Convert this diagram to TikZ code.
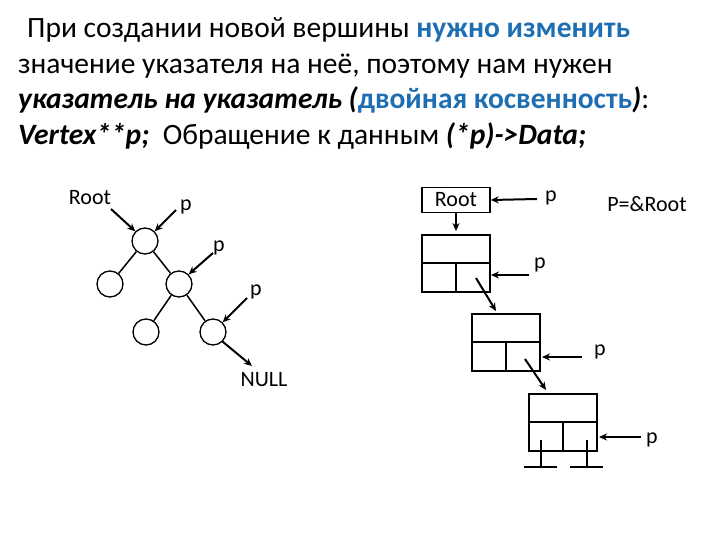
\documentclass[tikz,border=0pt]{standalone}
\usepackage{fontspec}
\usetikzlibrary{arrows.meta}
\setmainfont{Carlito}
\definecolor{hl}{RGB}{30,110,180}
\begin{document}
\begin{tikzpicture}[x=1pt,y=-1pt,
  every node/.style={inner sep=0pt},
  circ/.style={draw,circle,minimum size=26pt,line width=1.3pt},
  lab/.style={font=\fontsize{22}{22}\selectfont},
  ar/.style={-{Stealth[length=8pt,width=7pt]},line width=2pt},
  ln/.style={line width=1.5pt},
  box/.style={draw,line width=1.5pt}]
\useasboundingbox (0,0) rectangle (720,540);
\begin{scope}[every node/.style={anchor=base west,inner sep=0pt,font=\fontsize{29.5}{29.5}\selectfont}]
\node (l1) at (27,38) {При создании новой вершины \textcolor{hl}{\textbf{нужно изменить}}};
\node (l2) at (18,74) {значение указателя на неё, поэтому нам нужен};
\node (l3) at (18,109) {\textbf{\textit{указатель на указатель}} \textbf{\textit{(}}\textcolor{hl}{\textbf{двойная косвенность}}\textbf{\textit{)}}:};
\node (l4) at (18,145) {\textbf{\textit{Vertex**p;}}\ \ Обращение к данным \textbf{\textit{(*p)->Data;}}};
\end{scope}
% tree
\node[circ] (r) at (145,241) {};
\node[circ] (a) at (110,284) {};
\node[circ] (b) at (179,284) {};
\node[circ] (c) at (146,332) {};
\node[circ] (d) at (213,332) {};
\draw[ln] (r)--(a); \draw[ln] (r)--(b); \draw[ln] (b)--(c); \draw[ln] (b)--(d);
\node[lab] (troot) at (90,198) {Root};
\node[lab] (tp1) at (186,207) {p};
\node[lab] (tp2) at (219,248) {p};
\node[lab] (tp3) at (256,292) {p};
\node[lab] (tnull) at (264,380) {NULL};
\coordinate (s1) at (111,209); \draw[ar] (s1) -- (r.north west);
\coordinate (s2) at (176,210); \draw[ar] (s2) -- (r.north east);
\coordinate (s3) at (213,253); \draw[ar] (s3) -- (b.north east);
\coordinate (s4) at (247,298); \draw[ar] (s4) -- (d.north east);
\coordinate (s5) at (252,366); \draw[ar] (d.south east) -- (s5);
% right structure
\node[box,minimum width=68pt,minimum height=25pt,lab] (root) at (456,200) {Root};
\node[lab] (rp) at (551,198) {p};
\node[lab] (pr) at (647,204) {P=\&Root};
\coordinate (rps) at (537,199); \draw[ar] (rps) -- (root.east);
\coordinate (d0) at (456,231); \draw[ar] (root.south) -- (d0);
\foreach \n/\x/\y in {b1/422/235, b2/472/314, b3/529/394}{
  \draw[box] (\x,\y) rectangle ++(68,57);
  \draw[ln] (\x,\y+28) -- ++(68,0);
  \draw[ln] (\x+34,\y+28) -- ++(0,29);
  \coordinate (\n) at (\x,\y);
}
\node[lab] (p1) at (540,265) {p};
\node[lab] (p2) at (600,352) {p};
\node[lab] (p3) at (652,440) {p};
\coordinate (a1s) at (529,275); \coordinate (a1e) at (491,275); \draw[ar] (a1s) -- (a1e);
\coordinate (a2s) at (582,357); \coordinate (a2e) at (542,357); \draw[ar] (a2s) -- (a2e);
\coordinate (a3s) at (641,437); \coordinate (a3e) at (599,437); \draw[ar] (a3s) -- (a3e);
\coordinate (g1s) at (476,278); \coordinate (g1e) at (496,311); \draw[ar] (g1s) -- (g1e);
\coordinate (g2s) at (525,359); \coordinate (g2e) at (546,390); \draw[ar] (g2s) -- (g2e);
\draw[ln] (541,440) -- (541,467); \draw[ln] (524,467) -- (557,467);
\draw[ln] (587,440) -- (587,467); \draw[ln] (570,467) -- (603,467);
\end{tikzpicture}
\end{document}
